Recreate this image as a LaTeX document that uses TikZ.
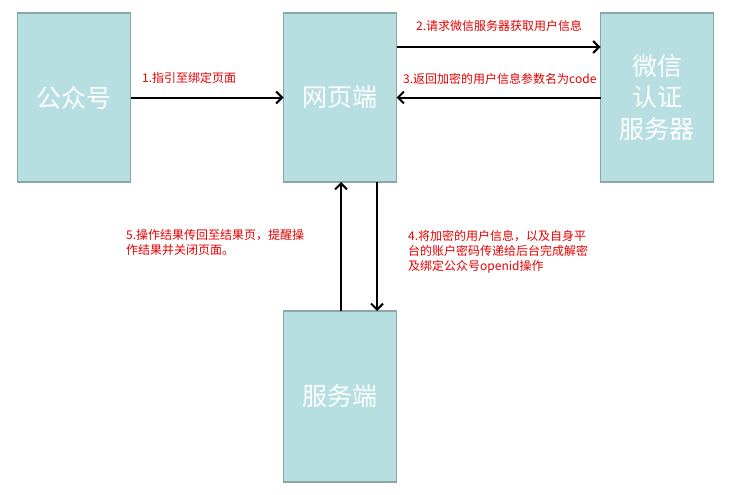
\documentclass[tikz,border=0pt]{standalone}
\usepackage{fontspec}
\setmainfont{Noto Sans CJK SC}
\usepackage{tikz}
\usetikzlibrary{arrows.meta, positioning}
\definecolor{boxfill}{RGB}{183, 222, 224}
\definecolor{boxedge}{RGB}{138, 168, 168}
\definecolor{notered}{RGB}{228, 0, 0}

\begin{document}
\begin{tikzpicture}[x=1pt, y=-1pt,
  box/.style={rectangle, fill=boxfill, draw=boxedge, line width=1.5pt,
              minimum width=113pt, minimum height=169pt, inner sep=0pt,
              outer sep=0pt, text=white, font=\fontsize{25}{31.5}\selectfont,
              align=center},
  tag/.style={text=notered, font=\fontsize{12}{15}\selectfont, inner sep=0pt,
              align=left},
  flow/.style={-{Straight Barb[length=6pt, width=12pt]}, line width=2pt},
]
  \useasboundingbox (0,0) rectangle (731,495);

  % --- boxes ---
  \node[box] (gzh) at (74,97.5) {公众号};
  \node[box, right=153pt of gzh] (web) {网页端};
  \node[box, right=204pt of web] (wx) {微信\\认证\\服务器};
  \node[box, below=129pt of web, minimum height=171pt] (srv) {服务端};

  % --- arrows ---
  \draw[flow] (gzh.east) -- (web.west);
  \draw[flow] ([yshift=-34pt]web.north east) -- ([yshift=-34pt]wx.north west);
  \draw[flow] (wx.west) -- (web.east);
  \draw[flow] ([xshift=1pt]srv.north) -- ([xshift=1pt]web.south);
  \draw[flow] ([xshift=37pt]web.south) -- ([xshift=37pt]srv.north);

  % --- step labels ---
  \node[tag, anchor=west] (t1) at (142,78) {1.指引至绑定页面};
  \node[tag, anchor=west] (t2) at (416,26) {2.请求微信服务器获取用户信息};
  \node[tag, anchor=west] (t3) at (403,79) {3.返回加密的用户信息参数名为code};
  \node[tag, anchor=north west] (t4) at (408,230)
    {4.将加密的用户信息，以及自身平\\台的账户密码传递给后台完成解密\\及绑定公众号openid操作};
  \node[tag, anchor=north west] (t5) at (126,229)
    {5.操作结果传回至结果页，提醒操\\作结果并关闭页面。};

\end{tikzpicture}
\end{document}
